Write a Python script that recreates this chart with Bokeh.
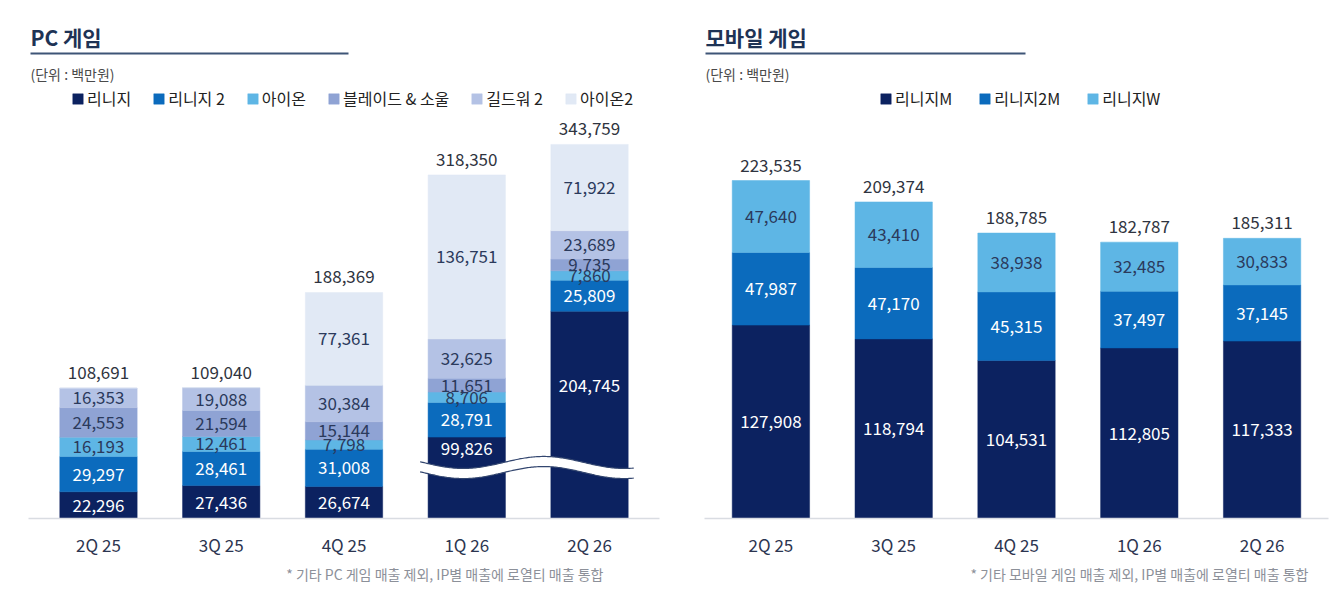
import numpy as np
from bokeh.plotting import figure
from bokeh.models import ColumnDataSource, Range1d, FactorRange, Label, Title
from bokeh.layouts import row
from bokeh.embed import file_html
from bokeh.resources import INLINE
from bokeh.core.properties import value

# ---------------- data ----------------
quarters = ["2Q 25", "3Q 25", "4Q 25", "1Q 26", "2Q 26"]

pc_names = ["리니지", "리니지 2", "아이온", "블레이드 & 소울", "길드워 2", "아이온2"]
pc_lineage = [22296, 27436, 26674, 99826, 204745]
pc_lineage2 = [29297, 28461, 31008, 28791, 25809]
pc_aion = [16193, 12461, 7798, 8706, 7860]
pc_bns = [24553, 21594, 15144, 11651, 9735]
pc_gw2 = [16353, 19088, 30384, 32625, 23689]
pc_aion2 = [0, 0, 77361, 136751, 71922]
pc_total = [108691, 109040, 188369, 318350, 343759]

mo_names = ["리니지M", "리니지2M", "리니지W"]
mo_lineageM = [127908, 118794, 104531, 112805, 117333]
mo_lineage2M = [47987, 47170, 45315, 37497, 37145]
mo_lineageW = [47640, 43410, 38938, 32485, 30833]
mo_total = [223535, 209374, 188785, 182787, 185311]

pc_colors = ["#0c2260", "#0b6bbd", "#5eb6e5", "#8fa3d4", "#b4c2e5", "#e1e9f5"]
pc_label_colors = ["white", "white", "#2b3a5c", "#2b3a5c", "#2b3a5c", "#2b3a5c"]
mo_colors = ["#0c2260", "#0b6bbd", "#5eb6e5"]
mo_label_colors = ["white", "white", "#2b3a5c"]

FONT = "Noto Sans CJK KR"
BASE_PAGE_Y = 518       # page y of the baseline
FRAME_H = 518           # frame height in px (page y 0 .. 518)
FIG_W = 668
FIG_H = 590

# axis break for the PC chart (tall 리니지 bars are cut)
BREAK_THRESHOLD = 250000
BREAK_CUT = 32000
BREAK_Y = 42500
BREAK_HALF = 4200
BREAK_AMP = 5000


def fmt(v):
    return f"{v:,}"


def build_panel(title, names, series, totals, colors, label_colors,
                px_per_k, ml, mr, pad, legend_x, legend_spacing, footnote,
                foot_right_page, fig_left_page, title_x_page, rule_end_page,
                broken=None):
    ymax = FRAME_H / px_per_k * 1000.0
    units = 5 + pad * 5
    frame_w = FIG_W - ml - mr
    px_per_f = frame_w / units
    f0_page = fig_left_page + ml + pad * 5 / 2 * px_per_f
    frame_right_page = fig_left_page + FIG_W - mr

    def fx(xpage):
        return (xpage - f0_page) / px_per_f

    def fy(ypage):
        return (BASE_PAGE_Y - ypage) / px_per_k * 1000.0

    p = figure(x_range=FactorRange(factors=quarters, range_padding=pad,
                                   range_padding_units="percent"),
               y_range=Range1d(0, ymax), width=FIG_W, height=FIG_H,
               output_backend="svg", toolbar_location=None,
               y_axis_location=None, min_border_left=ml, min_border_right=mr,
               min_border_top=0, min_border_bottom=FIG_H - FRAME_H)
    p.xgrid.visible = False
    p.ygrid.visible = False
    p.outline_line_color = None
    p.background_fill_color = "white"
    p.border_fill_color = "white"

    disp = [list(s) for s in series]
    if broken is not None:
        disp[0] = [v - BREAK_CUT if b else v for v, b in zip(series[0], broken)]

    data = {"q": quarters}
    keys = [f"s{i}" for i in range(len(names))]
    for k, d in zip(keys, disp):
        data[k] = d
    src = ColumnDataSource(data)
    p.vbar_stack(keys, x="q", width=0.63, source=src, fill_color=colors,
                 line_color=colors, line_width=0.5, legend_label=names)

    # break decoration
    if broken is not None and any(broken):
        xs = np.linspace(3.12, 4.86, 160)
        mid = BREAK_Y + BREAK_AMP * np.sin(2 * np.pi * (xs - 3.80) / 1.31)
        top = mid + BREAK_HALF
        bot = mid - BREAK_HALF
        p.patch(list(xs) + list(xs[::-1]), list(top) + list(bot[::-1]),
                fill_color="white", line_color=None)
        p.line(xs, top, line_color="#33466f", line_width=1.2)
        p.line(xs, bot, line_color="#33466f", line_width=1.2)

    # segment labels
    lx, ly, lt, lc = [], [], [], []
    for qi, q in enumerate(quarters):
        cum = 0.0
        for si in range(len(names)):
            v = series[si][qi]
            d = disp[si][qi]
            if v > 0:
                if si == 0 and broken is not None and broken[qi]:
                    yc = (BREAK_Y + BREAK_HALF + BREAK_AMP * 0.3 + d) / 2
                else:
                    yc = cum + d / 2
                lx.append(q)
                ly.append(yc)
                lt.append(fmt(v))
                lc.append(label_colors[si])
            cum += d
    p.text(x="x", y="y", text="t", text_color="c",
           source=ColumnDataSource(dict(x=lx, y=ly, t=lt, c=lc)),
           text_align="center", text_baseline="middle",
           text_font=value(FONT), text_font_size="17px")

    # totals
    tops = [sum(disp[si][qi] for si in range(len(names))) for qi in range(len(quarters))]
    p.text(x=quarters, y=tops, text=[fmt(t) for t in totals],
           text_align="center", text_baseline="bottom", y_offset=-9,
           text_color="#2f3440", text_font=value(FONT), text_font_size="17px")

    # header texts
    tx = fx(title_x_page)
    p.add_layout(Label(x=tx, y=fy(36), text=title, text_font=FONT,
                       text_font_size="21px", text_font_style="bold",
                       text_color="#1e3355", text_baseline="middle",
                       text_align="left"))
    p.line([tx, fx(rule_end_page)], [fy(53), fy(53)],
           line_color="#3e5577", line_width=2)
    p.add_layout(Label(x=tx, y=fy(73), text="(단위 : 백만원)", text_font=FONT,
                       text_font_size="14px", text_color="#4a4a4a",
                       text_baseline="middle", text_align="left"))

    # legend
    lg = p.legend[0]
    lg.orientation = "horizontal"
    lg.location = (legend_x, BASE_PAGE_Y - 110)
    lg.padding = 0
    lg.margin = 0
    lg.spacing = legend_spacing
    lg.label_standoff = 3
    lg.glyph_width = 13
    lg.glyph_height = 13
    lg.label_height = 20
    lg.label_text_font = FONT
    lg.label_text_font_size = "16px"
    lg.label_text_color = "#222222"
    lg.background_fill_alpha = 0
    lg.border_line_color = None

    # axis
    ax = p.xaxis[0]
    ax.major_tick_line_color = None
    ax.minor_tick_line_color = None
    ax.axis_line_color = "#d9dce2"
    ax.axis_line_width = 1.5
    ax.major_label_standoff = 7
    ax.major_label_text_font = FONT
    ax.major_label_text_font_size = "17px"
    ax.major_label_text_color = "#2c3550"

    # footnote below the axis
    p.add_layout(Title(text=footnote, align="right",
                       offset=frame_right_page - foot_right_page,
                       text_font=FONT, text_font_size="14px",
                       text_font_style="normal", text_color="#8c9099",
                       standoff=4), "below")
    return p


pc_broken = [t > BREAK_THRESHOLD for t in pc_total]

left = build_panel("PC 게임", pc_names,
                   [pc_lineage, pc_lineage2, pc_aion, pc_bns, pc_gw2, pc_aion2],
                   pc_total, pc_colors, pc_label_colors,
                   px_per_k=1.2, ml=28, mr=9, pad=0.028, legend_x=43,
                   legend_spacing=21,
                   footnote="* 기타 PC 게임 매출 제외, IP별 매출에 로열티 매출 통합",
                   foot_right_page=603, fig_left_page=0, title_x_page=30,
                   rule_end_page=348, broken=pc_broken)

right = build_panel("모바일 게임", mo_names,
                    [mo_lineageM, mo_lineage2M, mo_lineageW],
                    mo_total, mo_colors, mo_label_colors,
                    px_per_k=1.512, ml=36, mr=8, pad=0.0163, legend_x=175,
                    legend_spacing=26,
                    footnote="* 기타 모바일 게임 매출 제외, IP별 매출에 로열티 매출 통합",
                    foot_right_page=1308, fig_left_page=668, title_x_page=705,
                    rule_end_page=1025)

layout = row(left, right)
open("out.html", "w").write(file_html(layout, INLINE))
